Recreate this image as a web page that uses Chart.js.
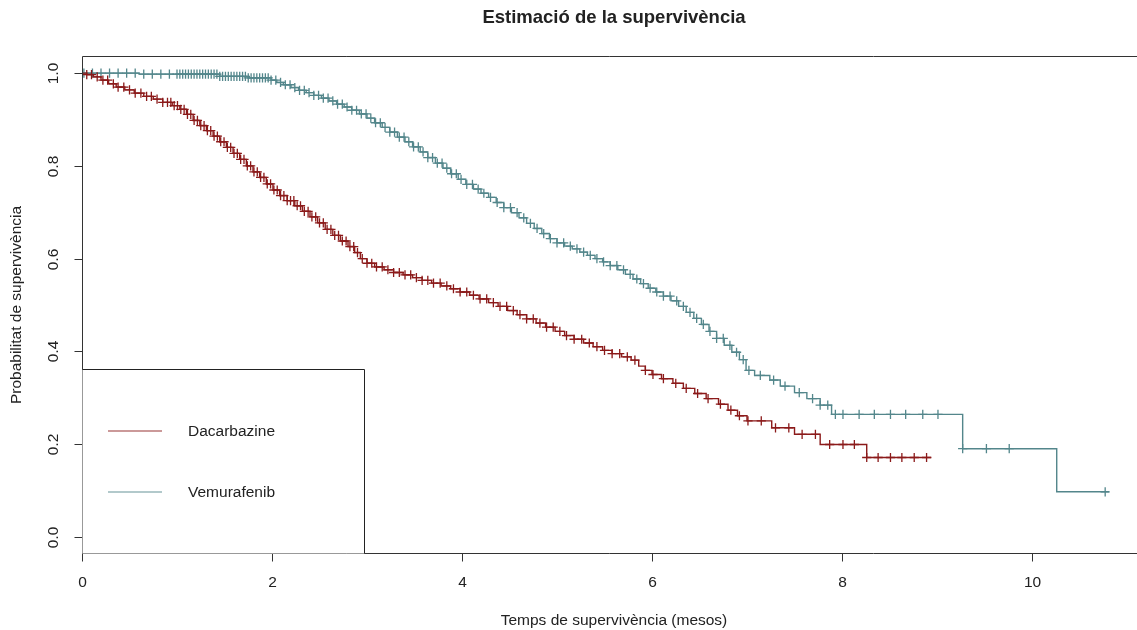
<!DOCTYPE html>
<html>
<head>
<meta charset="utf-8">
<title>Estimació de la supervivència</title>
<script src="https://cdn.jsdelivr.net/npm/chart.js@4"></script>
<style>
  html, body { margin: 0; padding: 0; background: #fff; }
  #wrap { width: 1137px; height: 630px; }
</style>
</head>
<body>
<div id="wrap"><canvas id="km" width="1137" height="630"></canvas></div>
<script>
// Kaplan-Meier curves (time in months)
const seriesNames = ['Dacarbazine', 'Vemurafenib'];
const seriesColors = ['#8B1A1A', '#53868B'];

const dacTime = [0, 0.05, 0.12, 0.2, 0.28, 0.36, 0.45, 0.55, 0.65, 0.75, 0.85, 0.95, 1.03, 1.1, 1.17, 1.24, 1.31, 1.38, 1.45, 1.52, 1.59, 1.66, 1.73, 1.8, 1.87, 1.94, 2.01, 2.08, 2.16, 2.24, 2.32, 2.4, 2.48, 2.56, 2.64, 2.72, 2.8, 2.87, 2.93, 3.0, 3.08, 3.18, 3.28, 3.38, 3.48, 3.58, 3.68, 3.78, 3.88, 3.98, 4.08, 4.18, 4.28, 4.38, 4.48, 4.58, 4.68, 4.78, 4.88, 4.98, 5.08, 5.18, 5.28, 5.38, 5.48, 5.58, 5.68, 5.78, 5.86, 5.93, 6.0, 6.1, 6.22, 6.33, 6.45, 6.57, 6.7, 6.8, 6.9, 7.0, 7.26, 7.5, 7.77, 8.26, 8.94];
const dacSurv = [1, 0.997, 0.992, 0.985, 0.977, 0.970, 0.964, 0.957, 0.950, 0.944, 0.937, 0.930, 0.922, 0.911, 0.898, 0.887, 0.876, 0.864, 0.852, 0.840, 0.827, 0.814, 0.800, 0.787, 0.775, 0.761, 0.748, 0.736, 0.725, 0.714, 0.702, 0.690, 0.677, 0.663, 0.650, 0.638, 0.626, 0.613, 0.600, 0.590, 0.582, 0.576, 0.570, 0.565, 0.559, 0.553, 0.547, 0.541, 0.535, 0.528, 0.521, 0.513, 0.505, 0.497, 0.488, 0.479, 0.470, 0.461, 0.452, 0.443, 0.434, 0.426, 0.418, 0.410, 0.402, 0.395, 0.388, 0.381, 0.368, 0.359, 0.350, 0.341, 0.331, 0.320, 0.309, 0.298, 0.286, 0.273, 0.261, 0.250, 0.235, 0.221, 0.199, 0.171, 0.171];
const dacCensor = [0.05, 0.1, 0.16, 0.22, 0.27, 0.33, 0.38, 0.44, 0.5, 0.56, 0.62, 0.68, 0.73, 0.79, 0.85, 0.9, 0.935, 0.97, 1.005, 1.04, 1.075, 1.11, 1.145, 1.18, 1.215, 1.25, 1.285, 1.32, 1.355, 1.39, 1.425, 1.46, 1.495, 1.53, 1.565, 1.6, 1.635, 1.67, 1.705, 1.74, 1.775, 1.81, 1.845, 1.88, 1.915, 1.95, 1.985, 2.02, 2.055, 2.09, 2.125, 2.16, 2.195, 2.23, 2.265, 2.3, 2.34, 2.38, 2.42, 2.46, 2.5, 2.54, 2.58, 2.62, 2.66, 2.7, 2.74, 2.78, 2.82, 2.86, 2.9, 2.95, 3.0, 3.05, 3.1, 3.16, 3.22, 3.28, 3.34, 3.4, 3.46, 3.52, 3.58, 3.64, 3.7, 3.77, 3.84, 3.91, 3.98, 4.05, 4.12, 4.19, 4.26, 4.33, 4.4, 4.47, 4.54, 4.61, 4.68, 4.75, 4.82, 4.89, 4.96, 5.03, 5.1, 5.18, 5.26, 5.34, 5.42, 5.5, 5.58, 5.66, 5.74, 5.82, 5.93, 6.01, 6.12, 6.25, 6.36, 6.48, 6.59, 6.72, 6.83, 6.92, 7.01, 7.15, 7.3, 7.44, 7.58, 7.72, 7.87, 8.01, 8.13, 8.26, 8.38, 8.51, 8.63, 8.76, 8.89];

const vemTime = [0, 0.6, 1.45, 1.75, 1.99, 2.05, 2.12, 2.2, 2.28, 2.36, 2.44, 2.52, 2.6, 2.68, 2.76, 2.84, 2.92, 3.0, 3.08, 3.16, 3.24, 3.32, 3.4, 3.48, 3.56, 3.64, 3.72, 3.8, 3.88, 3.96, 4.04, 4.12, 4.2, 4.28, 4.36, 4.44, 4.52, 4.6, 4.68, 4.76, 4.84, 4.92, 5.0, 5.08, 5.16, 5.24, 5.32, 5.4, 5.48, 5.56, 5.64, 5.72, 5.8, 5.88, 5.96, 6.04, 6.12, 6.2, 6.28, 6.36, 6.44, 6.52, 6.6, 6.68, 6.76, 6.84, 6.92, 6.99, 7.08, 7.24, 7.35, 7.5, 7.63, 7.77, 7.89, 9.27, 10.26, 10.81];
const vemSurv = [1, 0.998, 0.993, 0.990, 0.985, 0.980, 0.975, 0.969, 0.963, 0.958, 0.952, 0.946, 0.940, 0.933, 0.927, 0.920, 0.912, 0.903, 0.893, 0.883, 0.873, 0.862, 0.852, 0.841, 0.830, 0.818, 0.806, 0.795, 0.783, 0.771, 0.760, 0.750, 0.741, 0.732, 0.721, 0.710, 0.699, 0.688, 0.676, 0.665, 0.654, 0.643, 0.634, 0.627, 0.621, 0.614, 0.607, 0.600, 0.593, 0.585, 0.576, 0.566, 0.556, 0.546, 0.536, 0.528, 0.519, 0.509, 0.497, 0.484, 0.471, 0.458, 0.443, 0.428, 0.413, 0.398, 0.382, 0.359, 0.348, 0.338, 0.325, 0.311, 0.298, 0.284, 0.264, 0.190, 0.097, 0.097];
const vemCensor = [0.02, 0.11, 0.2, 0.29, 0.38, 0.47, 0.56, 0.65, 0.74, 0.83, 0.92, 1.0, 1.03, 1.06, 1.09, 1.12, 1.15, 1.18, 1.21, 1.24, 1.27, 1.3, 1.33, 1.36, 1.39, 1.42, 1.45, 1.48, 1.51, 1.54, 1.57, 1.6, 1.63, 1.66, 1.69, 1.72, 1.75, 1.78, 1.81, 1.84, 1.87, 1.9, 1.93, 1.96, 1.99, 2.04, 2.09, 2.14, 2.19, 2.24, 2.29, 2.34, 2.39, 2.44, 2.49, 2.54, 2.59, 2.64, 2.69, 2.74, 2.79, 2.84, 2.89, 2.94, 2.99, 3.04, 3.09, 3.14, 3.19, 3.24, 3.29, 3.34, 3.39, 3.44, 3.49, 3.54, 3.59, 3.64, 3.69, 3.74, 3.79, 3.84, 3.89, 3.94, 3.99, 4.05, 4.11, 4.17, 4.23, 4.3, 4.37, 4.44, 4.51, 4.58, 4.65, 4.72, 4.79, 4.86, 4.93, 5.0, 5.07, 5.14, 5.21, 5.28, 5.35, 5.42, 5.49, 5.56, 5.63, 5.7, 5.77, 5.84, 5.91, 5.98, 6.05, 6.12, 6.19, 6.26, 6.33, 6.4, 6.47, 6.54, 6.61, 6.68, 6.75, 6.82, 6.89, 6.96, 7.02, 7.14, 7.28, 7.4, 7.55, 7.69, 7.77, 7.85, 7.93, 8.01, 8.18, 8.34, 8.51, 8.67, 8.85, 9.01, 9.27, 9.52, 9.76, 10.77];

const xTicks = [0, 2, 4, 6, 8, 10];
const yTicks = [0, 0.2, 0.4, 0.6, 0.8, 1.0];

const titleText = 'Estimació de la supervivència';
const xLabel = 'Temps de supervivència (mesos)';
const yLabel = 'Probabilitat de supervivència';

// step value at time t (value of last step at or before t)
function survAt(times, surv, t) {
  let s = surv[0];
  for (let i = 0; i < times.length; i++) {
    if (times[i] <= t) s = surv[i]; else break;
  }
  return s;
}

const steps = (times, surv) => times.map((t, i) => ({ x: t, y: surv[i] }));
const marks = (times, surv, cens) => cens.map(t => ({ x: t, y: survAt(times, surv, t) }));

const FONT = '"Liberation Sans", Arial, sans-serif';
const INK = '#222';

// R style axes, labels, title and legend box
const rFrame = {
  id: 'rFrame',
  afterDraw(chart) {
    const { ctx, chartArea: a, scales: { x, y } } = chart;
    const px = v => Math.round(v) + 0.5;
    ctx.save();
    ctx.strokeStyle = '#333';
    ctx.lineWidth = 1;

    // box (right side is off the canvas)
    ctx.beginPath();
    ctx.moveTo(a.right, px(a.top));
    ctx.lineTo(px(a.left), px(a.top));
    ctx.lineTo(px(a.left), px(a.bottom));
    ctx.lineTo(a.right, px(a.bottom));
    ctx.stroke();

    ctx.fillStyle = INK;
    ctx.font = '15.5px ' + FONT;

    // y axis ticks, labels rotated like R
    yTicks.forEach(v => {
      const py = px(y.getPixelForValue(v));
      ctx.beginPath();
      ctx.moveTo(px(a.left) - 8, py);
      ctx.lineTo(px(a.left), py);
      ctx.stroke();
      ctx.save();
      ctx.translate(a.left - 28, py);
      ctx.rotate(-Math.PI / 2);
      ctx.textAlign = 'center';
      ctx.textBaseline = 'middle';
      ctx.fillText(v.toFixed(1), 0, 0);
      ctx.restore();
    });

    // x axis ticks
    xTicks.forEach(v => {
      const xx = px(x.getPixelForValue(v));
      ctx.beginPath();
      ctx.moveTo(xx, px(a.bottom));
      ctx.lineTo(xx, px(a.bottom) + 8);
      ctx.stroke();
      ctx.textAlign = 'center';
      ctx.textBaseline = 'middle';
      ctx.fillText(String(v), xx, a.bottom + 30);
    });

    // axis titles
    ctx.textAlign = 'center';
    ctx.textBaseline = 'middle';
    ctx.fillText(xLabel, 614, 621);
    ctx.save();
    ctx.translate(17, 305);
    ctx.rotate(-Math.PI / 2);
    ctx.fillText(yLabel, 0, 0);
    ctx.restore();

    // main title
    ctx.font = 'bold 18.5px ' + FONT;
    ctx.fillText(titleText, 614, 18);

    // legend box in the bottom-left corner
    const lx0 = px(a.left), lx1 = 364.5, ly0 = 369.5, ly1 = px(a.bottom);
    ctx.fillStyle = '#fff';
    ctx.fillRect(lx0, ly0, lx1 - lx0, ly1 - ly0);
    ctx.strokeStyle = '#222';
    ctx.beginPath();
    ctx.moveTo(lx0, ly0);
    ctx.lineTo(lx1, ly0);
    ctx.lineTo(lx1, ly1);
    ctx.stroke();

    const rows = [431, 492];
    ctx.font = '15.5px ' + FONT;
    ctx.textAlign = 'left';
    seriesNames.forEach((name, i) => {
      ctx.strokeStyle = seriesColors[i];
      ctx.globalAlpha = 0.6;
      ctx.lineWidth = 1.5;
      ctx.beginPath();
      ctx.moveTo(108, rows[i]);
      ctx.lineTo(162, rows[i]);
      ctx.stroke();
      ctx.globalAlpha = 1;
      ctx.fillStyle = INK;
      ctx.fillText(name, 188, rows[i] + 1);
    });
    ctx.restore();
  }
};

const ctx = document.getElementById('km').getContext('2d');
new Chart(ctx, {
  type: 'line',
  data: {
    datasets: [
      {
        label: seriesNames[0],
        data: steps(dacTime, dacSurv),
        borderColor: seriesColors[0],
        borderWidth: 1.4,
        stepped: true,
        pointRadius: 0,
        fill: false
      },
      {
        label: seriesNames[0] + ' censored',
        type: 'scatter',
        data: marks(dacTime, dacSurv, dacCensor),
        borderColor: seriesColors[0],
        backgroundColor: seriesColors[0],
        pointStyle: 'cross',
        pointRadius: 4.6,
        pointBorderWidth: 1.3,
        showLine: false
      },
      {
        label: seriesNames[1],
        data: steps(vemTime, vemSurv),
        borderColor: seriesColors[1],
        borderWidth: 1.4,
        stepped: true,
        pointRadius: 0,
        fill: false
      },
      {
        label: seriesNames[1] + ' censored',
        type: 'scatter',
        data: marks(vemTime, vemSurv, vemCensor),
        borderColor: seriesColors[1],
        backgroundColor: seriesColors[1],
        pointStyle: 'cross',
        pointRadius: 4.6,
        pointBorderWidth: 1.3,
        showLine: false
      }
    ]
  },
  options: {
    responsive: false,
    animation: false,
    devicePixelRatio: 1,
    layout: { autoPadding: false, padding: { left: 82, top: 56, right: 0, bottom: 77 } },
    plugins: {
      legend: { display: false },
      tooltip: { enabled: false },
      title: { display: false }
    },
    scales: {
      x: { type: 'linear', min: 0, max: 11.105, display: false },
      y: { type: 'linear', min: -0.035, max: 1.037, display: false }
    }
  },
  plugins: [rFrame]
});
</script>
</body>
</html>
